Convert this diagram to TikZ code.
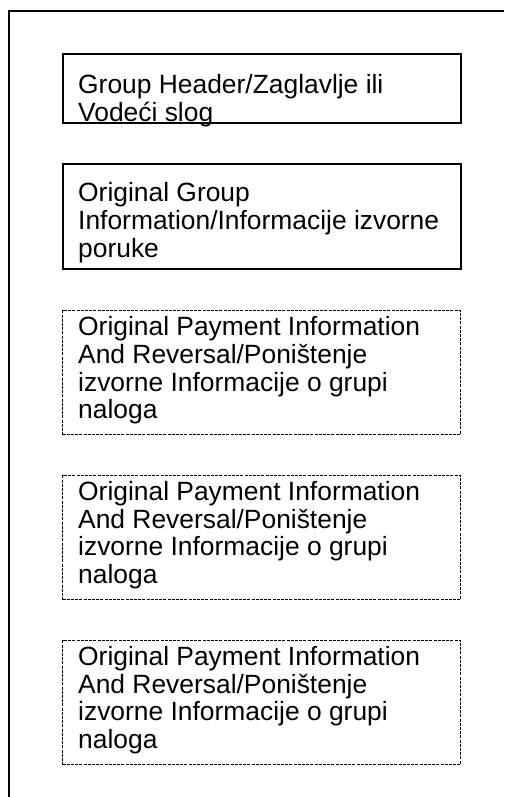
\documentclass[tikz,border=0pt]{standalone}
\usepackage{fontspec}
\setmainfont{Liberation Sans}
\begin{document}
\begin{tikzpicture}[x=1pt,y=-1pt]

    \tikzset{
      solidbox/.style={
        draw,
        line width=2pt,
        inner sep=0pt,
        anchor=north west,
        minimum width=398pt,
      },
      dashbox/.style={
        solidbox,
        line width=1pt,
        dash pattern=on 3pt off 1.2pt,
        minimum height=124pt,
      },
      boxtext/.style={
        anchor=base west,
        inner sep=0pt,
        align=left,
        font=\fontsize{26.4}{27.7}\selectfont,
      },
    }
    \useasboundingbox (0,0) rectangle (504,797);

	% outer frame runs off the page on the right and at the bottom
	\draw[line width=2pt] (9,797) -- (9,11) -- (504,11);

	\node[solidbox,minimum height=69pt] (header) at (62,53) {};
	\node[solidbox,minimum height=105pt] (grpinfo) at (62,163) {};
	\node[dashbox] (pmtinfoa) at (62,310) {};
	\node[dashbox] (pmtinfob) at (62,475) {};
	\node[dashbox] (pmtinfoc) at (62,640) {};

	% base of a node here is the baseline of its last line
	\node[boxtext] (headertext) at (78,121.7) {Group Header/Zaglavlje ili\\Vodeći slog};
	\node[boxtext] (grpinfotext) at (78,257.3) {Original Group\\Information/Informacije izvorne\\poruke};
	\node[boxtext] (pmtinfoatext) at (78,418.8) {Original Payment Information\\And Reversal/Poništenje\\izvorne Informacije o grupi\\naloga};
	\node[boxtext] (pmtinfobtext) at (78,583.5) {Original Payment Information\\And Reversal/Poništenje\\izvorne Informacije o grupi\\naloga};
	\node[boxtext] (pmtinfoctext) at (78,748.5) {Original Payment Information\\And Reversal/Poništenje\\izvorne Informacije o grupi\\naloga};

\end{tikzpicture}
\end{document}
